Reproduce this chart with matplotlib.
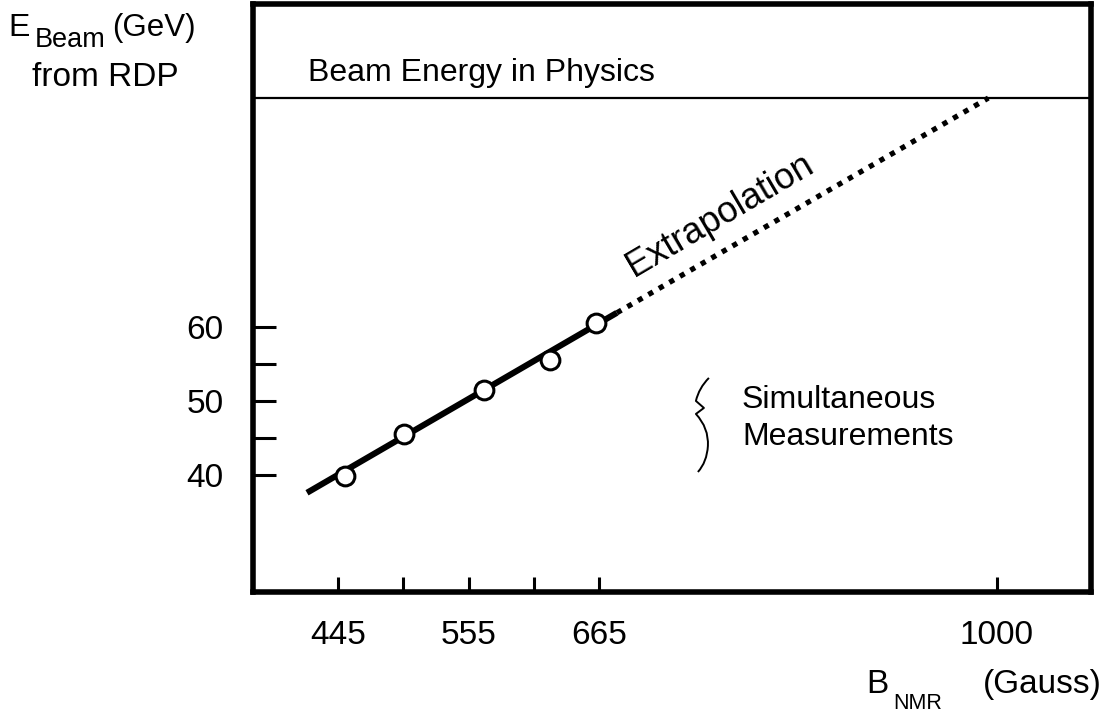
import matplotlib.pyplot as plt
from matplotlib.path import Path
from matplotlib.patches import PathPatch

# Simultaneous measurements: NMR field (Gauss) vs. beam energy from RDP (GeV)
b_nmr = [450.9, 500.6, 568.0, 623.6, 662.4]
e_beam = [39.9, 45.5, 51.5, 55.5, 60.5]

# Linear fit through the measurements and its extrapolation
fit_b = [418.9, 680.0]
fit_e = [37.6, 61.9]
extrap_b = [680.0, 993.0]
extrap_e = [61.9, 90.9]

physics_energy = 90.9

x_ticks = [445, 500, 555, 610, 665, 1000]
x_labels = ["445", "", "555", "", "665", "1000"]
y_ticks = [40, 45, 50, 55, 60]
y_labels = ["40", "", "50", "", "60"]

plt.rcParams["font.family"] = ["Liberation Sans", "DejaVu Sans"]

W, H = 1105, 715
fig = plt.figure(figsize=(W / 100, H / 100), dpi=100)
ax = fig.add_axes([253 / W, 1 - 592 / H, (1091 - 253) / W, (592 - 4) / H])
ax.set_xlim(373.4, 1079.5)
ax.set_ylim(24.2, 103.6)


def px(x, y):
    # pixel position -> figure fraction
    return x / W, 1 - y / H


def to_data(x, y):
    # pixel position -> data coordinates of the axes
    return 445 + (x - 338) / 1.187, 60 + (327 - y) / 7.4


ax.plot(fit_b, fit_e, color="black", lw=4.4, solid_capstyle="butt", zorder=2)
ax.plot(extrap_b, extrap_e, color="black", lw=3.8, dashes=(1.0, 1.3),
        dash_capstyle="butt", zorder=2)
ax.plot(b_nmr, e_beam, "o", ms=13.5, mfc="white", mec="black", mew=2.2,
        zorder=3)

ax.axhline(physics_energy, color="black", lw=1.6)
ax.text(419.7, physics_energy + 2.3, "Beam Energy in Physics", fontsize=23,
        ha="left", va="baseline")

ax.text(*to_data(720, 216), "Extrapolation", fontsize=26, rotation=30.5,
        ha="center", va="center", rotation_mode="anchor")

# curly brace next to the measurement label
brace_px = [(709, 378), (699, 388), (696, 401), (704, 408), (696, 414),
            (709, 428), (708, 446), (707, 462), (698, 472)]
brace_codes = [Path.MOVETO, Path.CURVE3, Path.CURVE3, Path.LINETO, Path.LINETO,
               Path.CURVE3, Path.CURVE3, Path.CURVE3, Path.CURVE3]
brace = Path([to_data(x, y) for x, y in brace_px], brace_codes)
ax.add_patch(PathPatch(brace, facecolor="none", edgecolor="black", lw=1.4,
                       joinstyle="round"))

ax.text(*to_data(742, 408), "Simultaneous", fontsize=23, ha="left",
        va="baseline")
ax.text(*to_data(742, 445), "Measurements", fontsize=23, ha="left",
        va="baseline")

ax.set_xticks(x_ticks)
ax.set_xticklabels(x_labels)
ax.set_yticks(y_ticks)
ax.set_yticklabels(y_labels)
ax.tick_params(axis="x", direction="in", length=11, width=2.2, pad=20,
               labelsize=24)
ax.tick_params(axis="y", direction="in", length=16.5, width=2.2, pad=21,
               labelsize=24)
for spine in ax.spines.values():
    spine.set_linewidth(4)

# axis titles
fig.text(*px(8, 36), "E", fontsize=23, ha="left", va="baseline")
fig.text(*px(35, 47), "Beam", fontsize=19.5, ha="left", va="baseline")
fig.text(*px(112, 36), "(GeV)", fontsize=22.5, ha="left", va="baseline")
fig.text(*px(32, 86), "from RDP", fontsize=24, ha="left", va="baseline")

fig.text(*px(866, 693), "B", fontsize=24, ha="left", va="baseline")
fig.text(*px(893, 709), "NMR", fontsize=15.5, ha="left", va="baseline")
fig.text(*px(983, 693), "(Gauss)", fontsize=24, ha="left", va="baseline")

fig.savefig("out.png", dpi=100, facecolor="white")
